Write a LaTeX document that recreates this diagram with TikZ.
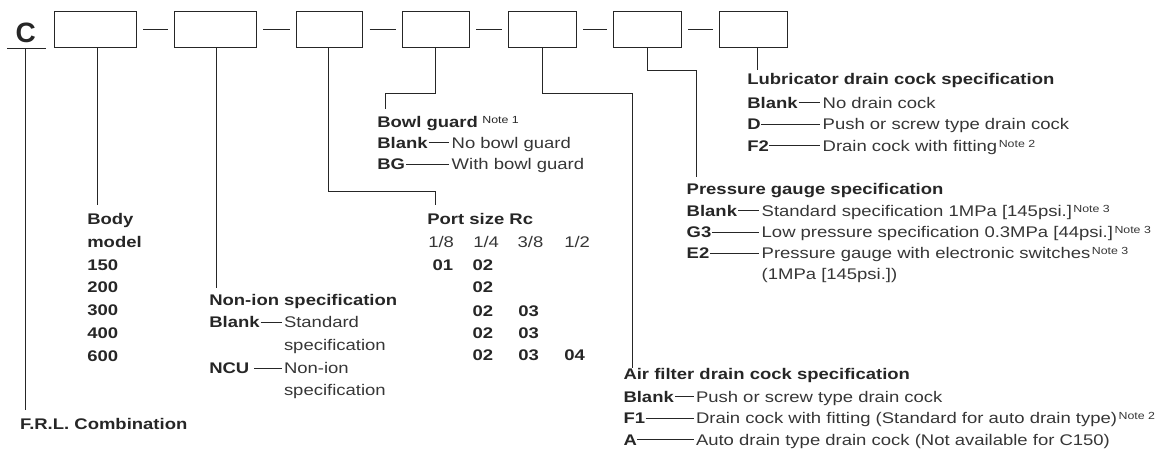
\documentclass[tikz,border=0pt]{standalone}
\usepackage{fontspec}
\setmainfont{Liberation Sans}[FakeStretch=1.2]
\newfontfamily\cfont{Liberation Sans}
\definecolor{ink}{HTML}{262626}
\definecolor{txt}{HTML}{363636}
\newcommand\notesup[1]{\hspace{1.5pt}\raisebox{3.8pt}{\normalfont\fontsize{10.3}{11}\selectfont Note #1}}
\begin{document}
\begin{tikzpicture}[x=1pt,y=-1pt,
  every node/.style={inner sep=0pt, outer sep=0pt},
  t/.style={anchor=base west, font=\fontsize{15.4}{18}\selectfont, text=txt},
  tb/.style={anchor=base west, font=\fontsize{15.4}{18}\selectfont\bfseries, text=ink},
  box/.style={draw=ink, line width=1pt, minimum height=35.6pt, anchor=north west},
  ln/.style={draw=ink, line width=0.9pt},
  dl/.style={draw=ink, line width=0.9pt},
  sep/.style={draw=ink, line width=0.9pt, shorten <=7pt, shorten >=6.5pt},
]
\useasboundingbox (0,0) rectangle (1167,450);

% ---- code boxes
\node[font=\cfont\fontsize{28}{30}\selectfont\bfseries, text=ink, anchor=base] (C) at (25.7,42.7) {C};
\node[box, minimum width=82pt]   (b1) at (54,11.7) {};
\node[box, minimum width=82pt]   (b2) at (174.3,11.7) {};
\node[box, minimum width=66.7pt] (b3) at (296,11.7) {};
\node[box, minimum width=67pt]   (b4) at (402,11.7) {};
\node[box, minimum width=68pt]   (b5) at (508,11.7) {};
\node[box, minimum width=68pt]   (b6) at (613,11.7) {};
\node[box, minimum width=68pt]   (b7) at (719,11.7) {};
\draw[sep] (b1.east) -- (b2.west);
\draw[sep] (b2.east) -- (b3.west);
\draw[sep] (b3.east) -- (b4.west);
\draw[sep] (b4.east) -- (b5.west);
\draw[sep] (b5.east) -- (b6.west);
\draw[sep] (b6.east) -- (b7.west);

% underline of C
\coordinate (ulL) at (7.3,48.3);
\coordinate (ulR) at (45.7,48.3);
\coordinate (ulM) at (25,48.3);
\draw[ln] (ulL) -- (ulR);

% ---- F.R.L.
\node[tb] (frl) at (20,429.3) {F.R.L. Combination};
\coordinate (e0) at (25,410);
\draw[ln] (ulM) -- (e0);

% ---- Body model
\node[tb] (body) at (87.3,224) {Body};
\node[tb] at (87.3,247.3) {model};
\node[tb] at (87.3,270) {150};
\node[tb] at (87.3,292.7) {200};
\node[tb] at (87.3,315.7) {300};
\node[tb] at (87.3,338.3) {400};
\node[tb] at (87.3,361) {600};
\coordinate (e1) at (97.7,205);
\draw[ln] ([xshift=2.7pt]b1.south) -- (e1);

% ---- Non-ion
\node[tb] (ni) at (209.3,305.5) {Non-ion specification};
\node[tb] (niA) at (209.3,327.5) {Blank};
\node[t]  (niAd) at (284,327.5) {Standard};
\node[t]  at (284,350.5) {specification};
\node[tb] (niB) at (209.3,373.5) {NCU};
\node[t]  (niBd) at (284,373.5) {Non-ion};
\node[t]  at (284,395.5) {specification};
\draw[dl] ([shift={(1,-5.5)}]niA.base east) -- ([shift={(-2.5,-5.5)}]niAd.base west);
\draw[dl] ([shift={(5,-5.5)}]niB.base east) -- ([shift={(-2.5,-5.5)}]niBd.base west);
\coordinate (e2) at (216.7,288.3);
\draw[ln] ([xshift=1.4pt]b2.south) -- (e2);

% ---- Port size
\node[tb] (ps) at (427.3,224) {Port size Rc};
\node[t] at (428.3,247.3) {1/8};
\node[t] at (473.3,247.3) {1/4};
\node[t] at (517.7,247.3) {3/8};
\node[t] at (564.3,247.3) {1/2};
\node[tb] at (432.7,270.7) {01};
\node[tb] at (472.7,270.7) {02};
\node[tb] at (472.7,292.7) {02};
\node[tb] at (472.7,316) {02};
\node[tb] at (518.3,316) {03};
\node[tb] at (472.7,338.3) {02};
\node[tb] at (518.3,338.3) {03};
\node[tb] at (472.7,360.5) {02};
\node[tb] at (518.3,360.5) {03};
\node[tb] at (564.3,360.5) {04};
\coordinate (j3) at (435,191.7);
\coordinate (e3) at (435,205);
\draw[ln] ([xshift=-1pt]b3.south) |- (j3) -- (e3);

% ---- Bowl guard
\node[tb] (bg) at (377.3,127) {Bowl guard\hspace{3pt}\notesup{1}};
\node[tb] (bgA) at (377.3,148) {Blank};
\node[t]  (bgAd) at (451.7,148) {No bowl guard};
\node[tb] (bgB) at (377.3,169.5) {BG};
\node[t]  (bgBd) at (451.7,169.5) {With bowl guard};
\draw[dl] ([shift={(1,-5.5)}]bgA.base east) -- ([shift={(-2.5,-5.5)}]bgAd.base west);
\draw[dl] ([shift={(1,-5.5)}]bgB.base east) -- ([shift={(-2.5,-5.5)}]bgBd.base west);
\coordinate (j4) at (385.7,93);
\coordinate (e4) at (385.7,109);
\draw[ln] (b4.south) |- (j4) -- (e4);

% ---- Air filter drain cock
\node[tb] (af) at (623.5,379) {Air filter drain cock specification};
\node[tb] (afA) at (623.5,402) {Blank};
\node[t]  (afAd) at (696,402) {Push or screw type drain cock};
\node[tb] (afB) at (623.5,423.5) {F1};
\node[t]  (afBd) at (696,423.5) {Drain cock with fitting (Standard for auto drain type)\notesup{2}};
\node[tb] (afC) at (623.5,445) {A};
\node[t]  (afCd) at (696,445) {Auto drain type drain cock (Not available for C150)};
\draw[dl] ([shift={(1,-5.5)}]afA.base east) -- ([shift={(-2.5,-5.5)}]afAd.base west);
\draw[dl] ([shift={(0.5,-5.5)}]afB.base east) -- ([shift={(-2.5,-5.5)}]afBd.base west);
\draw[dl] ([shift={(0.5,-5.5)}]afC.base east) -- ([shift={(-2.5,-5.5)}]afCd.base west);
\coordinate (j5) at (632,93);
\coordinate (e5) at (632,368);
\draw[ln] (b5.south) |- (j5) -- (e5);

% ---- Pressure gauge
\node[tb] (pg) at (686.7,194) {Pressure gauge specification};
\node[tb] (pgA) at (686.7,216) {Blank};
\node[t]  (pgAd) at (761.7,216) {Standard specification 1MPa [145psi.]\notesup{3}};
\node[tb] (pgB) at (686.7,237.5) {G3};
\node[t]  (pgBd) at (761.7,237.5) {Low pressure specification 0.3MPa [44psi.]\notesup{3}};
\node[tb] (pgC) at (686.7,258.5) {E2};
\node[t]  (pgCd) at (761.7,258.5) {Pressure gauge with electronic switches\notesup{3}};
\node[t]  at (761.7,279.5) {(1MPa [145psi.])};
\draw[dl] ([shift={(1,-5.5)}]pgA.base east) -- ([shift={(-2.5,-5.5)}]pgAd.base west);
\draw[dl] ([shift={(0.5,-5.5)}]pgB.base east) -- ([shift={(-2.5,-5.5)}]pgBd.base west);
\draw[dl] ([shift={(0.5,-5.5)}]pgC.base east) -- ([shift={(-2.5,-5.5)}]pgCd.base west);
\coordinate (j6) at (696,70);
\coordinate (e6) at (696,176.7);
\draw[ln] (b6.south) |- (j6) -- (e6);

% ---- Lubricator drain cock
\node[tb] (lu) at (747.3,84) {Lubricator drain cock specification};
\node[tb] (luA) at (747.3,108) {Blank};
\node[t]  (luAd) at (822.7,108) {No drain cock};
\node[tb] (luB) at (747.3,129.5) {D};
\node[t]  (luBd) at (822.7,129.5) {Push or screw type drain cock};
\node[tb] (luC) at (747.3,151) {F2};
\node[t]  (luCd) at (822.7,151) {Drain cock with fitting\notesup{2}};
\draw[dl] ([shift={(1,-5.5)}]luA.base east) -- ([shift={(-2.5,-5.5)}]luAd.base west);
\draw[dl] ([shift={(0.5,-5.5)}]luB.base east) -- ([shift={(-2.5,-5.5)}]luBd.base west);
\draw[dl] ([shift={(0.5,-5.5)}]luC.base east) -- ([shift={(-2.5,-5.5)}]luCd.base west);
\coordinate (e7) at (757,70);
\draw[ln] ([xshift=4pt]b7.south) -- (e7);
\end{tikzpicture}
\end{document}
